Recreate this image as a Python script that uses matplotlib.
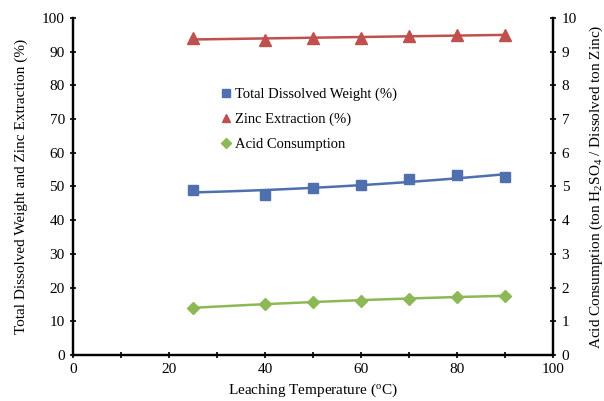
import numpy as np
import matplotlib
matplotlib.use('Agg')
import matplotlib.pyplot as plt

plt.rcParams['font.family'] = ['Liberation Serif', 'DejaVu Serif']
plt.rcParams['mathtext.fontset'] = 'custom'
plt.rcParams['mathtext.rm'] = 'Liberation Serif'
plt.rcParams['mathtext.it'] = 'Liberation Serif:italic'

temps = [25, 40, 50, 60, 70, 80, 90]
dissolved = [49.0, 47.6, 49.5, 50.3, 52.1, 53.4, 52.7]
zinc = [94.0, 93.6, 94.1, 94.2, 94.6, 94.9, 95.1]
acid = [1.39, 1.52, 1.58, 1.60, 1.67, 1.73, 1.75]

blue = '#4F6FAE'
red = '#C0504D'
green = '#8DB856'


def trend(x, y, deg=2):
    c = np.polyfit(x, y, deg)
    xs = np.linspace(min(x), max(x), 50)
    return xs, np.polyval(c, xs)


fig = plt.figure(figsize=(6.04, 4.01), dpi=100)
ax = fig.add_axes([0.121, 0.115, 0.795, 0.840])
ax2 = ax.twinx()

ax.plot(*trend(temps, dissolved), color=blue, lw=1.8)
ax.plot(temps, dissolved, 's', color=blue, ms=7, label='Total Dissolved Weight (%)')
ax.plot(*trend(temps, zinc, 1), color=red, lw=1.8)
ax.plot(temps, zinc, '^', color=red, ms=8, label='Zinc Extraction (%)')
ax2.plot(*trend(temps, acid), color=green, lw=1.8)
ax2.plot(temps, acid, 'D', color=green, ms=6.5, label='Acid Consumption')

ax.set_xlim(0, 100)
ax.set_ylim(0, 100)
ax2.set_ylim(0, 10)
ax.set_xticks(range(0, 101, 20))
ax.set_xticks(range(0, 101, 10), minor=True)
ax.set_yticks(range(0, 101, 10))
ax2.set_yticks(range(0, 11, 1))

for a in (ax, ax2):
    a.tick_params(which='both', direction='inout', labelsize=11, width=1.2)
    a.tick_params(which='major', length=5)
    a.tick_params(which='minor', length=4)
    for s in a.spines.values():
        s.set_linewidth(1.6)
    a.spines['top'].set_visible(False)

ax.set_xlabel('Leaching Temperature ($^{\\rm o}$C)', fontsize=11, labelpad=4)
ax.set_ylabel('Total Dissolved Weight and Zinc Extraction (%)', fontsize=11, labelpad=10)
ax2.set_ylabel('Acid Consumption (ton H$_2$SO$_4$ / Dissolved ton Zinc)', fontsize=11, labelpad=8)

handles = ax.get_legend_handles_labels()[0] + ax2.get_legend_handles_labels()[0]
labels = [h.get_label() for h in handles]
fig.legend(handles, labels, loc='upper left', bbox_to_anchor=(0.345, 0.815),
           frameon=False, fontsize=10.5, handlelength=0.6, handletextpad=0.3,
           labelspacing=0.8, markerscale=0.8)

fig.savefig('out.png', dpi=100)
